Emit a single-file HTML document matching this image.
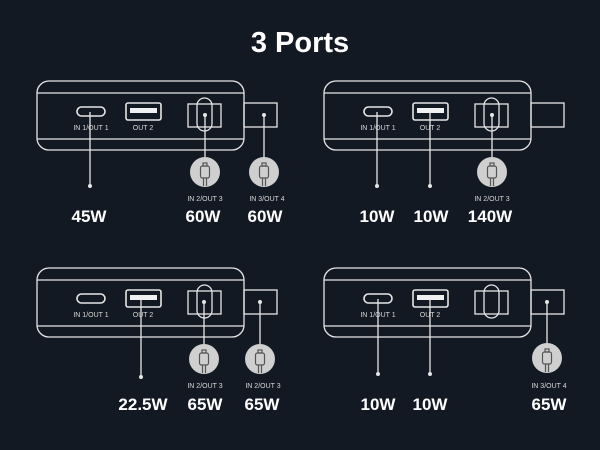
<!DOCTYPE html>
<html><head><style>
html,body{margin:0;padding:0;background:#131923;}
svg{display:block;}
text{font-family:"Liberation Sans",sans-serif;fill:#fff;text-anchor:middle;}
.s{font-size:7px;fill:#d8d8d8;}
.b{font-size:17px;font-weight:bold;}
</style></head><body>
<svg width="600" height="450" viewBox="0 0 600 450" xmlns="http://www.w3.org/2000/svg">
<rect width="600" height="450" fill="#131923"/>
<text x="300" y="52" style="font-size:29px;font-weight:bold">3 Ports</text>
<defs>
<g id="dev" fill="none" stroke="#e6e6e6" stroke-width="1.3">
  <rect x="37" y="81" width="207" height="69" rx="12"/>
  <line x1="37" y1="93" x2="244" y2="93"/>
  <line x1="37" y1="139" x2="244" y2="139"/>
  <rect x="244" y="103" width="33" height="24"/>
  <rect x="77" y="107" width="28" height="9" rx="4.5" stroke-width="1.6"/>
  <rect x="126" y="103" width="35" height="17" rx="2" stroke-width="1.6"/>
  <rect x="130" y="108" width="27" height="5" fill="#f0f0f0" stroke="none"/>
  <rect x="188" y="104" width="33" height="23"/>
  <rect x="197" y="98" width="15" height="33" rx="7.5"/>
</g>
<g id="plug">
  <circle cx="0" cy="0" r="15" fill="#cfcfcf"/>
  <g fill="none" stroke="#555" stroke-width="1.2">
    <rect x="-4.5" y="-6" width="9" height="12" rx="2"/>
    <rect x="-2" y="-9" width="4" height="3"/>
    <line x1="-1.5" y1="6" x2="-1.5" y2="14"/>
    <line x1="1.5" y1="6" x2="1.5" y2="14"/>
  </g>
</g>
</defs>
<g stroke="#e6e6e6" stroke-width="1.3" fill="#e6e6e6">
<use href="#dev"/>
<line x1="90" y1="112" x2="90" y2="186"/><circle cx="90" cy="186" r="2" stroke="none"/>
<line x1="205" y1="115" x2="205" y2="158"/><circle cx="205" cy="115" r="2" stroke="none"/>
<line x1="264" y1="115" x2="264" y2="158"/><circle cx="264" cy="115" r="2" stroke="none"/>
<use href="#dev" x="287"/>
<line x1="377" y1="112" x2="377" y2="186"/><circle cx="377" cy="186" r="2" stroke="none"/>
<line x1="430" y1="112" x2="430" y2="186"/><circle cx="430" cy="186" r="2" stroke="none"/>
<line x1="492" y1="115" x2="492" y2="158"/><circle cx="492" cy="115" r="2" stroke="none"/>
<use href="#dev" y="187"/>
<line x1="141" y1="300" x2="141" y2="377"/><circle cx="141" cy="377" r="2" stroke="none"/>
<line x1="204" y1="302" x2="204" y2="345"/><circle cx="204" cy="302" r="2" stroke="none"/>
<line x1="260" y1="302" x2="260" y2="345"/><circle cx="260" cy="302" r="2" stroke="none"/>
<use href="#dev" x="287" y="187"/>
<line x1="378" y1="299" x2="378" y2="374"/><circle cx="378" cy="374" r="2" stroke="none"/>
<line x1="430" y1="299" x2="430" y2="374"/><circle cx="430" cy="374" r="2" stroke="none"/>
<line x1="547" y1="302" x2="547" y2="345"/><circle cx="547" cy="302" r="2" stroke="none"/>
</g>
<use href="#plug" transform="translate(205,172)"/>
<use href="#plug" transform="translate(264,172)"/>
<use href="#plug" transform="translate(492,172)"/>
<use href="#plug" transform="translate(204,359)"/>
<use href="#plug" transform="translate(260,359)"/>
<use href="#plug" transform="translate(547,358)"/>
<text class="s" x="91" y="130">IN 1/OUT 1</text><text class="s" x="143" y="130">OUT 2</text>
<text class="s" x="378" y="130">IN 1/OUT 1</text><text class="s" x="430" y="130">OUT 2</text>
<text class="s" x="91" y="317">IN 1/OUT 1</text><text class="s" x="143" y="317">OUT 2</text>
<text class="s" x="378" y="317">IN 1/OUT 1</text><text class="s" x="430" y="317">OUT 2</text>
<text class="s" x="205" y="201">IN 2/OUT 3</text><text class="s" x="267" y="201">IN 3/OUT 4</text>
<text class="s" x="492" y="201">IN 2/OUT 3</text>
<text class="s" x="205" y="388">IN 2/OUT 3</text><text class="s" x="263" y="388">IN 2/OUT 3</text>
<text class="s" x="549" y="388">IN 3/OUT 4</text>
<text class="b" x="89" y="222">45W</text><text class="b" x="203" y="222">60W</text><text class="b" x="265" y="222">60W</text>
<text class="b" x="377" y="222">10W</text><text class="b" x="431" y="222">10W</text><text class="b" x="490" y="222">140W</text>
<text class="b" x="143" y="410">22.5W</text><text class="b" x="205" y="410">65W</text><text class="b" x="262" y="410">65W</text>
<text class="b" x="378" y="410">10W</text><text class="b" x="430" y="410">10W</text><text class="b" x="549" y="410">65W</text>
</svg>
</body></html>
